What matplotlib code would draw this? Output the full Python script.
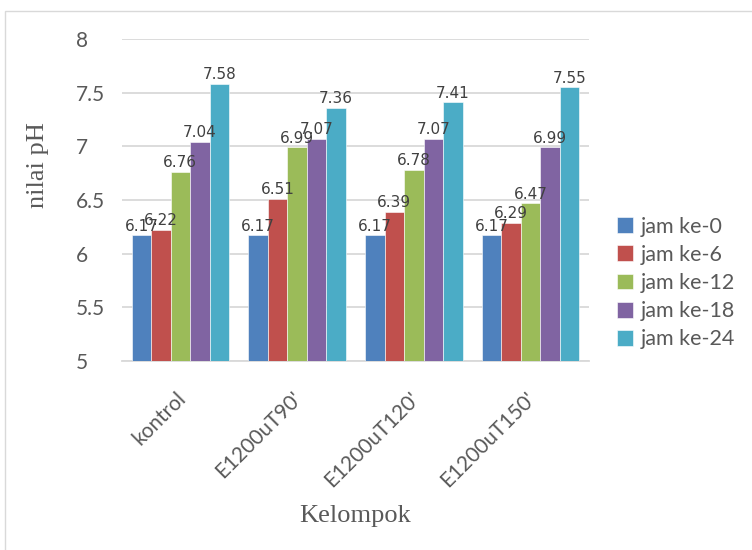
import matplotlib
matplotlib.use("Agg")
import matplotlib.pyplot as plt
import matplotlib.transforms as mtransforms
import numpy as np
from matplotlib.patches import Rectangle

categories = ["kontrol", "E1200uT90'", "E1200uT120'", "E1200uT150'"]
series_names = ["jam ke-0", "jam ke-6", "jam ke-12", "jam ke-18", "jam ke-24"]
jam_0 = [6.17, 6.17, 6.17, 6.17]
jam_6 = [6.22, 6.51, 6.39, 6.29]
jam_12 = [6.76, 6.99, 6.78, 6.47]
jam_18 = [7.04, 7.07, 7.07, 6.99]
jam_24 = [7.58, 7.36, 7.41, 7.55]
y_ticks = [5, 5.5, 6, 6.5, 7, 7.5, 8]
y_tick_labels = ["5", "5.5", "6", "6.5", "7", "7.5", "8"]

series = [jam_0, jam_6, jam_12, jam_18, jam_24]
colors = ["#4F81BD", "#C0504D", "#9BBB59", "#8064A2", "#4BACC6"]

fig = plt.figure(figsize=(7.52, 5.5), dpi=100)
ax = fig.add_axes([122 / 752, 1 - 361 / 550, (589 - 122) / 752, (361 - 39) / 550])

# chart area border
fig.patches.append(Rectangle((5 / 752, -0.01), 1.0, 1 - 11 / 550 + 0.01,
                             transform=fig.transFigure, fill=False,
                             edgecolor="#d9d9d9", linewidth=1.0))

x = np.arange(len(categories))
bar_w = 0.167
n = len(series)
for i, (vals, name, c) in enumerate(zip(series, series_names, colors)):
    pos = x + (i - (n - 1) / 2) * bar_w
    ax.bar(pos, np.array(vals) - 5, bottom=5, width=bar_w, color=c,
           edgecolor="#ffffff", linewidth=0.4, label=name, zorder=3)
    for xp, v in zip(pos, vals):
        ax.text(xp, v + 0.015, f"{v:.2f}", ha="center", va="bottom",
                fontsize=11, color="#404040", family="DejaVu Sans", zorder=4)

ax.set_xlim(-0.5, len(categories) - 0.5)
ax.set_ylim(5, 8)
ax.set_yticks(y_ticks)
ax.set_yticklabels(y_tick_labels, fontsize=15, color="#595959", family="Lato")
for lbl in ax.get_yticklabels():
    lbl.set_horizontalalignment("left")
ax.tick_params(axis="y", length=0, pad=33)
ax.grid(axis="y", color="#d9d9d9", linewidth=1.3, zorder=0)
ax.set_axisbelow(True)

ax.set_xticks(x)
ax.set_xticklabels(categories, rotation=45, ha="right", va="top",
                   fontsize=15, color="#595959", family="Lato")
ax.tick_params(axis="x", length=0, pad=18)
shift = mtransforms.ScaledTranslation(-5 / 100, -2 / 100, fig.dpi_scale_trans)
for lbl in ax.get_xticklabels():
    lbl.set_rotation_mode("anchor")
    lbl.set_transform(lbl.get_transform() + shift)

for s in ["top", "right", "left"]:
    ax.spines[s].set_visible(False)
ax.spines["bottom"].set_color("#d9d9d9")
ax.spines["bottom"].set_linewidth(1.3)

fig.text(38 / 752, 1 - 165 / 550, "nilai pH", rotation=90, ha="center", va="center",
         fontsize=19, color="#595959", family="Liberation Serif")
fig.text(355 / 752, 1 - 516 / 550, "Kelompok", ha="center", va="center",
         fontsize=19, color="#595959", family="Liberation Serif")

leg = fig.legend(loc="center left", bbox_to_anchor=(608 / 752, 1 - 283 / 550),
                 frameon=False, handlelength=0.75, handleheight=0.75,
                 handletextpad=0.35, labelspacing=0.38, borderaxespad=0,
                 prop={"family": "Lato", "size": 15.5})
for t in leg.get_texts():
    t.set_color("#595959")

fig.savefig("out.png", dpi=100)
